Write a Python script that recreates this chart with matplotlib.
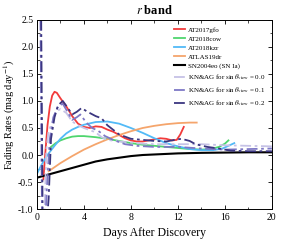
import matplotlib
matplotlib.use("Agg")
import matplotlib.pyplot as plt
from matplotlib.ticker import MultipleLocator

plt.rcParams['font.family'] = ['Liberation Serif', 'DejaVu Serif']
plt.rcParams['mathtext.fontset'] = 'stix'

# days / fading rates
gfo_d = [0.55, 0.7, 0.9, 1.1, 1.3, 1.5, 1.7, 2.0, 2.5, 3.0, 3.5, 4.0, 4.5, 5.0, 5.5, 6.0, 6.5, 7.0, 7.5, 8.0, 8.5, 9.0, 9.5, 10.0, 10.5, 11.0, 11.5, 11.9, 12.2, 12.5]
gfo_r = [-0.45, 0.0, 0.55, 0.9, 1.1, 1.17, 1.15, 1.05, 0.9, 0.72, 0.58, 0.52, 0.5, 0.53, 0.52, 0.47, 0.43, 0.37, 0.31, 0.27, 0.25, 0.25, 0.27, 0.29, 0.31, 0.3, 0.27, 0.28, 0.38, 0.52]

cow_d = [1.2, 1.6, 2.0, 2.5, 3.0, 3.5, 4.0, 5.0, 6.0, 7.0, 8.0, 9.0, 10.0, 11.0, 12.0, 13.0, 14.0, 14.8, 15.5, 16.0, 16.3]
cow_r = [0.15, 0.22, 0.27, 0.31, 0.34, 0.35, 0.35, 0.33, 0.3, 0.26, 0.22, 0.19, 0.17, 0.15, 0.13, 0.11, 0.1, 0.11, 0.15, 0.21, 0.27]

kzr_d = [0.0, 0.3, 0.6, 1.0, 1.5, 2.0, 2.5, 3.0, 3.5, 4.0, 5.0, 6.0, 7.0, 8.0, 9.0, 10.0, 11.0, 12.0, 13.0, 14.0, 15.0, 15.8, 16.3, 16.8]
kzr_r = [-0.35, -0.22, -0.1, 0.03, 0.17, 0.3, 0.4, 0.47, 0.52, 0.56, 0.61, 0.62, 0.58, 0.5, 0.41, 0.31, 0.22, 0.16, 0.11, 0.09, 0.09, 0.12, 0.17, 0.22]

dr_d = [1.0, 2.0, 3.0, 4.0, 5.0, 6.0, 7.0, 8.0, 9.0, 10.0, 11.0, 12.0, 13.0, 13.6]
dr_r = [-0.3, -0.15, -0.02, 0.1, 0.2, 0.29, 0.37, 0.44, 0.5, 0.54, 0.57, 0.59, 0.6, 0.6]

eo_d = [0.0, 1.0, 2.0, 3.0, 4.0, 5.0, 6.0, 7.0, 8.0, 9.0, 10.0, 12.0, 14.0, 16.0, 18.0, 20.0]
eo_r = [-0.42, -0.36, -0.3, -0.24, -0.18, -0.12, -0.08, -0.05, -0.02, 0.0, 0.01, 0.03, 0.04, 0.045, 0.05, 0.05]

kn0_d = [0.15, 0.3, 0.45, 0.6, 0.8, 1.0, 1.3, 1.6, 2.0, 2.5, 3.0, 3.5, 4.0, 4.5, 5.0, 5.5, 6.0, 7.0, 8.0, 9.0, 10.0, 12.0, 14.0, 16.0, 18.0, 20.0]
kn0_r = [3.0, 2.6, -1.5, -1.5, 0.1, 0.45, 0.6, 0.8, 0.85, 0.78, 0.62, 0.55, 0.5, 0.46, 0.42, 0.33, 0.28, 0.25, 0.23, 0.21, 0.2, 0.2, 0.2, 0.18, 0.17, 0.16]

kn1_d = [0.15, 0.3, 0.45, 0.65, 0.9, 1.1, 1.4, 1.8, 2.2, 2.6, 3.0, 3.4, 3.7, 4.2, 4.7, 5.2, 5.8, 6.5, 7.5, 8.5, 10.0, 12.0, 14.0, 16.0, 18.0, 20.0]
kn1_r = [3.0, 2.8, -1.5, -1.5, -0.4, 0.3, 0.7, 0.9, 0.95, 0.8, 0.65, 0.7, 0.75, 0.6, 0.5, 0.45, 0.35, 0.28, 0.2, 0.17, 0.15, 0.15, 0.12, 0.1, 0.11, 0.12]

kn2_d = [0.2, 0.35, 0.5, 0.75, 1.0, 1.2, 1.5, 1.8, 2.2, 2.6, 3.0, 3.4, 3.8, 4.3, 5.0, 5.5, 6.0, 7.0, 8.0, 9.0, 10.0, 11.0, 11.7, 12.3, 13.0, 13.5, 14.5, 15.5, 16.5, 18.0, 20.0]
kn2_r = [3.0, 2.9, -1.5, -1.5, -0.8, 0.3, 0.7, 0.92, 1.0, 0.88, 0.75, 0.8, 0.87, 0.8, 0.72, 0.68, 0.55, 0.38, 0.3, 0.28, 0.26, 0.25, 0.28, 0.3, 0.26, 0.2, 0.15, 0.12, 0.08, 0.07, 0.07]

fig = plt.figure(figsize=(2.93, 2.40), dpi=100)
ax = fig.add_axes([0.126, 0.129, 0.802, 0.788])

ax.plot(gfo_d, gfo_r, color="#f23b3b", lw=1.3, label="AT2017gfo")
ax.plot(cow_d, cow_r, color="#4fd66e", lw=1.3, label="AT2018cow")
ax.plot(kzr_d, kzr_r, color="#52baf7", lw=1.3, label="AT2018kzr")
ax.plot(dr_d, dr_r, color="#f5a56c", lw=1.3, label="ATLAS19dr")
ax.plot(eo_d, eo_r, color="black", lw=1.5, label="SN2004eo (SN Ia)")
dash = (0, (6, 2, 1.5, 2))
ax.plot(kn0_d, kn0_r, color="#c6c2e6", lw=1.3, ls=dash, label=r"KN&AG for $\sin\theta_{\rm view}$ = 0.0")
ax.plot(kn1_d, kn1_r, color="#7e78c6", lw=1.3, ls=dash, label=r"KN&AG for $\sin\theta_{\rm view}$ = 0.1")
ax.plot(kn2_d, kn2_r, color="#3b3680", lw=1.3, ls=dash, label=r"KN&AG for $\sin\theta_{\rm view}$ = 0.2")

ax.set_xlim(0, 20)
ax.set_ylim(-1.0, 2.5)
ax.xaxis.set_major_locator(MultipleLocator(4))
ax.xaxis.set_minor_locator(MultipleLocator(2))
ax.yaxis.set_major_locator(MultipleLocator(0.5))
ax.yaxis.set_minor_locator(MultipleLocator(0.25))
ax.tick_params(which="both", direction="in", top=True, right=True, labelsize=7)
ax.tick_params(which="major", length=3, width=0.6, pad=2.5)
ax.tick_params(which="minor", length=1.8, width=0.5)
ax.set_yticklabels(["%.1f" % v for v in ax.get_yticks()])
for s in ax.spines.values():
    s.set_linewidth(0.7)

ax.set_xlabel("Days After Discovery", fontsize=8.5, labelpad=4)
ax.set_ylabel(r"Fading Rates (mag day$^{-1}$)", fontsize=7.5, labelpad=1)
ax.set_title(r"$\bf{\it{r}}$ band", fontsize=9, fontweight="bold", pad=4)

ax.legend(loc="upper right", frameon=False, fontsize=5, handlelength=1.6,
          handletextpad=0.3, labelspacing=0.45, borderaxespad=0.6,
          borderpad=0.4)

fig.savefig("out.png", dpi=100)
